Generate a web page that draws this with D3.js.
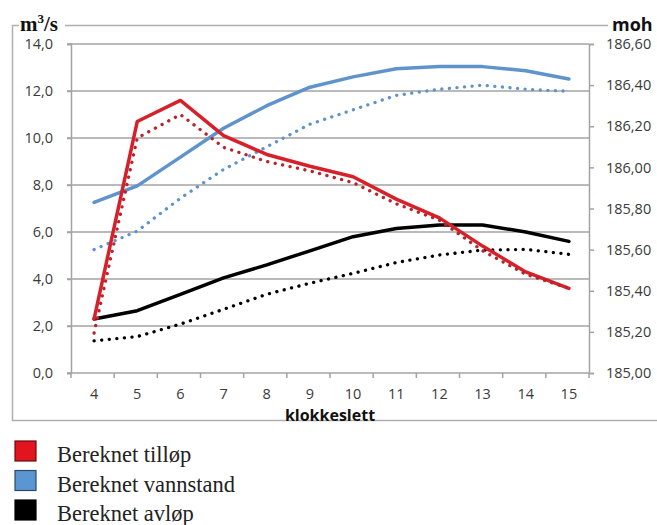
<!DOCTYPE html>
<html>
<head>
  <meta charset="utf-8">
  <script src="https://d3js.org/d3.v7.min.js"></script>
  <style>
    body { margin: 0; background: #fff; }
    .tick text { font-family: "Open Sans", sans-serif; font-size: 14.5px; fill: #3a3a3a; }
    .legend text { font-family: "Liberation Serif", "Times New Roman", serif; font-size: 22.5px; fill: #222; }
  </style>
</head>
<body>
<div id="chart"></div>
<script>
  // klokkeslett (hour of day)
  const hours = [4, 5, 6, 7, 8, 9, 10, 11, 12, 13, 14, 15];

  // m3/s, left axis
  const tilløp       = [2.3, 10.7, 11.6, 10.1, 9.3, 8.8, 8.35, 7.4, 6.6, 5.4, 4.3, 3.6];
  const tilløpDotted = [1.7, 10.0, 11.0, 9.6, 9.0, 8.6, 8.1, 7.2, 6.5, 5.2, 4.2, 3.6];
  const avløp        = [2.3, 2.65, 3.35, 4.05, 4.6, 5.2, 5.8, 6.15, 6.3, 6.3, 6.0, 5.6];
  const avløpDotted  = [1.37, 1.55, 2.08, 2.71, 3.35, 3.82, 4.24, 4.7, 5.02, 5.23, 5.26, 5.05];

  // moh, right axis
  const vannstand       = [185.83, 185.91, 186.05, 186.19, 186.30, 186.39, 186.44, 186.48, 186.49, 186.49, 186.47, 186.43];
  const vannstandDotted = [185.60, 185.69, 185.85, 185.99, 186.10, 186.21, 186.28, 186.35, 186.38, 186.40, 186.38, 186.37];

  const leftTicks = [0, 2, 4, 6, 8, 10, 12, 14];
  const rightTicks = [185.0, 185.2, 185.4, 185.6, 185.8, 186.0, 186.2, 186.4, 186.6];
  const legendItems = ["Bereknet tilløp", "Bereknet vannstand", "Bereknet avløp"];

  const red = "#d6202a", blue = "#5f93cc", black = "#000";

  const width = 657, height = 525;
  const plot = { left: 71, right: 589, top: 44, bottom: 373 };

  const svg = d3.select("#chart").append("svg")
    .attr("width", width)
    .attr("height", height);

  // outer chart frame
  svg.append("rect")
    .attr("x", 12.5).attr("y", 25.5)
    .attr("width", 680).attr("height", 395)
    .attr("fill", "none")
    .attr("stroke", "#b0b0b0")
    .attr("stroke-width", 1.5);

  const step = (plot.right - plot.left) / hours.length;
  const x = d3.scalePoint().domain(hours)
    .range([plot.left + step / 2 + 1.5, plot.right - step / 2 + 1.5]);
  const yL = d3.scaleLinear().domain([0, 14]).range([plot.bottom, plot.top]);
  const yR = d3.scaleLinear().domain([185, 186.6]).range([plot.bottom, plot.top]);

  const comma = f => v => d3.format(f)(v).replace(".", ",");

  // gridlines
  svg.append("g")
    .selectAll("line")
    .data(leftTicks)
    .join("line")
    .attr("x1", plot.left - 4).attr("x2", plot.right)
    .attr("y1", d => yL(d)).attr("y2", d => yL(d))
    .attr("stroke", "#a3a3a3")
    .attr("stroke-width", 1.5);

  // left axis
  const gl = svg.append("g")
    .attr("transform", `translate(${plot.left},0)`)
    .call(d3.axisLeft(yL).tickValues(leftTicks).tickFormat(comma(".1f")).tickSize(4).tickPadding(14));
  gl.selectAll("line, path").attr("stroke", "#a3a3a3").attr("stroke-width", 1.5);

  // right axis
  const gr = svg.append("g")
    .attr("transform", `translate(${plot.right},0)`)
    .call(d3.axisRight(yR).tickValues(rightTicks).tickFormat(comma(".2f")).tickSize(5).tickPadding(12));
  gr.selectAll("line, path").attr("stroke", "#a3a3a3").attr("stroke-width", 1.5);

  // x axis: ticks between categories
  const bounds = d3.range(hours.length + 1).map(i => plot.left + i * step);
  svg.append("g")
    .selectAll("line")
    .data(bounds)
    .join("line")
    .attr("x1", d => d).attr("x2", d => d)
    .attr("y1", plot.bottom).attr("y2", plot.bottom + 5)
    .attr("stroke", "#a3a3a3")
    .attr("stroke-width", 1.5);

  svg.append("g")
    .selectAll("text")
    .data(hours)
    .join("text")
    .attr("x", d => x(d))
    .attr("y", plot.bottom + 26)
    .attr("text-anchor", "middle")
    .style("font-family", "Open Sans, sans-serif")
    .style("font-size", "14.5px")
    .style("fill", "#3a3a3a")
    .text(d => d);

  // series
  const lineL = d3.line().x((d, i) => x(hours[i])).y(d => yL(d));
  const lineR = d3.line().x((d, i) => x(hours[i])).y(d => yR(d));

  const series = [
    { data: vannstandDotted, line: lineR, color: blue, dotted: true },
    { data: avløpDotted, line: lineL, color: black, dotted: true },
    { data: vannstand, line: lineR, color: blue, dotted: false },
    { data: avløp, line: lineL, color: black, dotted: false },
    { data: tilløp, line: lineL, color: red, dotted: false },
    { data: tilløpDotted, line: lineL, color: "#b8242c", dotted: true }
  ];

  svg.append("g")
    .selectAll("path")
    .data(series)
    .join("path")
    .attr("d", d => d.line(d.data))
    .attr("fill", "none")
    .attr("stroke", d => d.color)
    .attr("stroke-width", d => d.dotted ? 3.3 : 3.5)
    .attr("stroke-linecap", "round")
    .attr("stroke-linejoin", "round")
    .attr("stroke-dasharray", d => d.dotted ? "0.1 7.5" : null);

  // axis titles
  svg.append("rect").attr("x", 19).attr("y", 10).attr("width", 46).attr("height", 24).attr("fill", "#fff");
  const unitL = svg.append("text")
    .attr("x", 20).attr("y", 31)
    .style("font-family", "Liberation Serif, serif")
    .style("font-weight", "bold")
    .style("font-size", "21px")
    .style("fill", "#111");
  unitL.append("tspan").text("m");
  unitL.append("tspan").attr("dy", -8).style("font-size", "13px").text("3");
  unitL.append("tspan").attr("dy", 8).text("/s");

  svg.append("rect").attr("x", 608).attr("y", 10).attr("width", 50).attr("height", 22).attr("fill", "#fff");
  svg.append("text")
    .attr("x", 612).attr("y", 31)
    .style("font-family", "Open Sans, sans-serif")
    .style("font-weight", "bold")
    .style("font-size", "18px")
    .style("fill", "#111")
    .text("moh");

  svg.append("text")
    .attr("x", (plot.left + plot.right) / 2)
    .attr("y", plot.bottom + 48)
    .attr("text-anchor", "middle")
    .style("font-family", "Open Sans, sans-serif")
    .style("font-weight", "bold")
    .style("font-size", "16px")
    .style("fill", "#111")
    .text("klokkeslett");

  // legend
  const legendColors = ["#e2141e", "#5b95d2", "#000"];
  const legendStroke = ["#6a0a0a", "#2c4a6a", "#000"];
  const lg = svg.append("g").attr("class", "legend");
  const row = lg.selectAll("g")
    .data(legendItems)
    .join("g")
    .attr("transform", (d, i) => `translate(0,${i * 29.5})`);
  row.append("rect")
    .attr("x", 15).attr("y", 441)
    .attr("width", 21).attr("height", 20)
    .attr("fill", (d, i) => legendColors[i])
    .attr("stroke", (d, i) => legendStroke[i])
    .attr("stroke-width", 1.2);
  row.append("text")
    .attr("x", 57).attr("y", 462)
    .text(d => d);
</script>
</body>
</html>
